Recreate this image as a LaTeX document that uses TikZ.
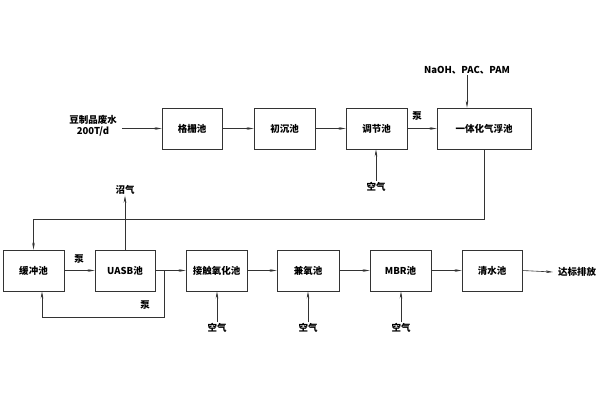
\documentclass[tikz,border=0pt]{standalone}
\usepackage{fontspec}
\setmainfont{Noto Sans CJK SC}
\usetikzlibrary{arrows.meta}

\tikzset{
  pool/.style={draw=black!80, line width=0.7pt, minimum width=61pt, minimum height=41pt, inner sep=0pt},
  flow/.style={draw=black!80, line width=0.6pt, -{Stealth[length=7pt,width=2.6pt]}},
  pipe/.style={draw=black!80, line width=0.6pt},
  lbl/.style={inner sep=1pt}
}

\begin{document}
\begin{tikzpicture}[x=1pt,y=-1pt,font=\fontsize{9.5}{11}\selectfont\bfseries]
        \useasboundingbox (0,0) rectangle (599,400);
        % pools, upper row
        \node[pool, minimum width=60pt] (grille) at (192,128.5) {格栅池};
        \node[pool] (settle) at (284.5,128.5) {初沉池};
        \node[pool] (adjust) at (376.5,128.5) {调节池};
        \node[pool, minimum width=94pt] (float) at (484,128.5) {一体化气浮池};
        % pools, lower row
        \node[pool] (buffer) at (33.5,270.5) {缓冲池};
        \node[pool, minimum width=60pt] (uasb) at (125,270.5) {UASB池};
        \node[pool] (contact) at (216.5,270.5) {接触氧化池};
        \node[pool, minimum width=62pt] (anoxic) at (308,270.5) {兼氧池};
        \node[pool] (mbr) at (400.5,270.5) {MBR池};
        \node[pool, minimum width=60pt] (clear) at (492,270.5) {清水池};
        % texts
        \node[lbl, align=center] (source) at (93,126) {豆制品废水\\[0pt]200T/d};
        \node[lbl] (dosing) at (467,70) {NaOH、PAC、PAM};
        \node[lbl] (biogas) at (125,190) {沼气};
        \node[lbl] (outlet) at (577,272) {达标排放};
        \node[lbl] (airA) at (376,187) {空气};
        \node[lbl] (airB) at (217,328) {空气};
        \node[lbl] (airC) at (308,328) {空气};
        \node[lbl] (airD) at (401,328) {空气};
        \node[lbl] (pumpA) at (417,116) {泵};
        \node[lbl] (pumpB) at (79,259) {泵};
        \node[lbl] (pumpC) at (145,305) {泵};
        % bends
        \coordinate (drop) at (484,219);
        \coordinate (tap) at (164,270.5);
        \coordinate (back) at (164,317);
        % upper flow
        \draw[flow, shorten <=4pt] (source.east |- grille) -- (grille.west);
        \draw[flow] (grille) -- (settle);
        \draw[flow] (settle) -- (adjust);
        \draw[flow] (adjust) -- (float);
        \draw[flow] (dosing.south) -- (dosing.south |- float.north);
        \draw[flow] (airA.north) -- (airA.north |- adjust.south);
        \draw[flow] (float.south) -- (drop) -| (buffer.north);
        % lower flow
        \draw[flow] (buffer) -- (uasb);
        \draw[flow] (uasb) -- (contact);
        \draw[flow] (contact) -- (anoxic);
        \draw[flow] (anoxic) -- (mbr);
        \draw[flow] (mbr) -- (clear);
        \draw[flow] (clear.east) -- ([xshift=-4pt]outlet.west);
        \draw[flow] (uasb.north) -- (biogas.south);
        \draw[flow] (tap) -- (back) -| ([xshift=8.5pt]buffer.south);
        \draw[flow] (airB.north) -- (airB.north |- contact.south);
        \draw[flow] (airC.north) -- (airC.north |- anoxic.south);
        \draw[flow] (airD.north) -- (airD.north |- mbr.south);
\end{tikzpicture}
\end{document}
